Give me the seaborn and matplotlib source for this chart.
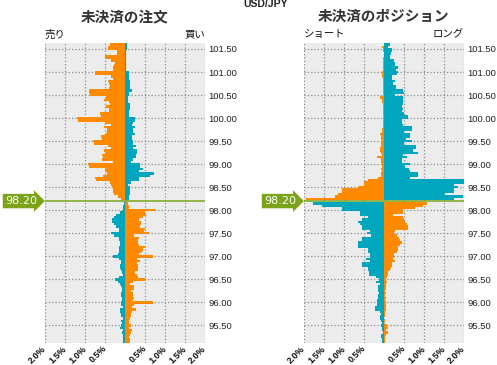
import numpy as np
import pandas as pd
import matplotlib
matplotlib.use("Agg")
import matplotlib.pyplot as plt
import matplotlib.transforms as mtransforms
import seaborn as sns

# ---- data (percent of open orders / positions at each price level) ----
current_price = 98.20
levels_above = np.round(np.arange(101.60, 98.24, -0.05), 2)   # 101.60 .. 98.25
levels_below = np.round(np.arange(98.15, 95.14, -0.05), 2)    # 98.15 .. 95.15

# open orders, above the current price
orders_sell_above = [
    0.37, 0.43, 0.43, 0.21, 0.21, 0.49, 0.49, 0.34, 0.24, 0.28,
    0.29, 0.29, 0.74, 0.74, 0.34, 0.29, 0.42, 0.39, 0.37, 0.39,
    0.89, 0.89, 0.87, 0.47, 0.53, 0.39, 0.37, 0.47, 0.41, 0.40,
    0.62, 0.60, 1.19, 1.17, 0.49, 0.35, 0.53, 0.45, 0.44, 0.47,
    0.59, 0.58, 0.79, 0.78, 0.42, 0.35, 0.52, 0.51, 0.57, 0.56,
    0.57, 0.31, 0.92, 0.91, 0.50, 0.49, 0.45, 0.56, 0.74, 0.73,
    0.37, 0.35, 0.32, 0.31, 0.29, 0.28, 0.18, 0.09]
orders_buy_above = [
    0.05, 0.05, 0.05, 0.03, 0.03, 0.02, 0.02, 0.02, 0.02, 0.02,
    0.03, 0.03, 0.10, 0.10, 0.10, 0.11, 0.12, 0.12, 0.12, 0.12,
    0.17, 0.11, 0.11, 0.07, 0.07, 0.07, 0.12, 0.12, 0.12, 0.11,
    0.11, 0.11, 0.26, 0.26, 0.21, 0.17, 0.26, 0.21, 0.21, 0.26,
    0.17, 0.17, 0.21, 0.21, 0.27, 0.19, 0.30, 0.30, 0.27, 0.27,
    0.21, 0.16, 0.38, 0.38, 0.46, 0.36, 0.72, 0.62, 0.36, 0.36,
    0.15, 0.08, 0.12, 0.12, 0.12, 0.12, 0.11, 0.11]

# open orders, below the current price
orders_buy_below = [
    0.02, 0.04, 0.04, 0.06, 0.12, 0.22, 0.28, 0.33, 0.33, 0.28,
    0.22, 0.16, 0.14, 0.35, 0.27, 0.14, 0.14, 0.12, 0.12, 0.14,
    0.16, 0.14, 0.18, 0.29, 0.14, 0.10, 0.09, 0.12, 0.12, 0.10,
    0.08, 0.06, 0.14, 0.24, 0.18, 0.12, 0.09, 0.08, 0.08, 0.09,
    0.09, 0.08, 0.08, 0.11, 0.09, 0.06, 0.13, 0.12, 0.09, 0.09,
    0.06, 0.09, 0.08, 0.11, 0.12, 0.06, 0.08, 0.06, 0.06, 0.06,
    0.06]
orders_sell_below = [
    0.07, 0.11, 0.11, 0.75, 0.51, 0.53, 0.44, 0.34, 0.40, 0.40,
    0.38, 0.51, 0.48, 0.61, 0.23, 0.36, 0.32, 0.32, 0.36, 0.51,
    0.44, 0.43, 0.36, 0.69, 0.29, 0.38, 0.29, 0.33, 0.33, 0.32,
    0.26, 0.29, 0.33, 0.51, 0.19, 0.13, 0.23, 0.23, 0.15, 0.19,
    0.19, 0.23, 0.19, 0.71, 0.23, 0.18, 0.28, 0.18, 0.15, 0.15,
    0.13, 0.11, 0.11, 0.15, 0.09, 0.18, 0.15, 0.13, 0.11, 0.13,
    0.13]

# open positions, above the current price
pos_short_above = [
    0.00, 0.04, 0.03, 0.02, 0.00, 0.00, 0.02, 0.02, 0.03, 0.03,
    0.02, 0.02, 0.04, 0.04, 0.04, 0.02, 0.02, 0.03, 0.02, 0.02,
    0.02, 0.02, 0.03, 0.09, 0.06, 0.05, 0.03, 0.03, 0.02, 0.02,
    0.02, 0.03, 0.02, 0.02, 0.03, 0.03, 0.03, 0.05, 0.05, 0.09,
    0.08, 0.08, 0.06, 0.08, 0.08, 0.09, 0.09, 0.07, 0.06, 0.17,
    0.08, 0.08, 0.06, 0.04, 0.07, 0.06, 0.08, 0.08, 0.14, 0.39,
    0.49, 0.49, 0.64, 1.06, 1.06, 1.15, 1.22, 1.95]
pos_long_above = [
    0.15, 0.11, 0.19, 0.19, 0.17, 0.15, 0.15, 0.26, 0.28, 0.28,
    0.36, 0.29, 0.34, 0.32, 0.19, 0.19, 0.28, 0.23, 0.29, 0.29,
    0.48, 0.51, 0.28, 0.48, 0.48, 0.48, 0.47, 0.44, 0.48, 0.44,
    0.51, 0.59, 0.59, 0.46, 0.44, 0.48, 0.71, 0.71, 0.51, 0.65,
    0.65, 0.54, 0.71, 0.51, 0.80, 0.80, 0.72, 0.86, 0.48, 0.57,
    0.44, 0.44, 0.65, 0.52, 0.62, 0.65, 0.86, 0.86, 0.65, 2.30,
    2.30, 1.76, 1.84, 1.76, 1.75, 1.52, 1.98, 1.76]

# open positions, below the current price
pos_short_below = [
    1.77, 1.56, 1.06, 1.06, 0.60, 0.60, 0.39, 0.54, 0.64, 0.60,
    0.54, 0.54, 0.35, 0.43, 0.33, 0.54, 0.54, 0.66, 0.66, 0.66,
    0.39, 0.39, 0.35, 0.35, 0.46, 0.35, 0.54, 0.54, 0.39, 0.39,
    0.38, 0.38, 0.21, 0.12, 0.21, 0.10, 0.16, 0.14, 0.16, 0.12,
    0.16, 0.14, 0.18, 0.18, 0.18, 0.22, 0.22, 0.10, 0.08, 0.10,
    0.09, 0.08, 0.05, 0.08, 0.05, 0.04, 0.03, 0.08, 0.08, 0.06,
    0.06]
pos_long_below = [
    1.08, 0.98, 0.78, 0.48, 0.48, 0.23, 0.48, 0.51, 0.53, 0.57,
    0.61, 0.61, 0.28, 0.26, 0.32, 0.38, 0.40, 0.46, 0.40, 0.36,
    0.36, 0.32, 0.26, 0.26, 0.23, 0.28, 0.19, 0.19, 0.18, 0.15,
    0.11, 0.11, 0.07, 0.04, 0.07, 0.04, 0.04, 0.04, 0.03, 0.04,
    0.03, 0.04, 0.03, 0.04, 0.04, 0.05, 0.05, 0.03, 0.02, 0.02,
    0.01, 0.02, 0.00, 0.07, 0.09, 0.04, 0.10, 0.04, 0.03, 0.02,
    0.02]

y_ticks = [95.5, 96.0, 96.5, 97.0, 97.5, 98.0, 98.5, 99.0, 99.5, 100.0, 100.5, 101.0, 101.5]
x_ticks = [-2.0, -1.5, -1.0, -0.5, 0.0, 0.5, 1.0, 1.5, 2.0]
x_ticklabels = ["2.0%", "1.5%", "1.0%", "0.5%", "", "0.5%", "1.0%", "1.5%", "2.0%"]

ORANGE = "#FF8A00"
TEAL = "#00A5BE"
GREEN = "#7BA418"

sns.set_style("darkgrid", {"axes.facecolor": "#ECECEC", "grid.color": "#8C8C8C",
                           "grid.linestyle": ":", "axes.edgecolor": "none"})
plt.rcParams["font.family"] = ["Liberation Sans", "Noto Sans CJK JP", "DejaVu Sans"]

fig = plt.figure(figsize=(4.97, 3.65), dpi=100)
fig.patch.set_facecolor("white")

ax_ord = fig.add_axes([45 / 497, 22 / 365, 160 / 497, 300 / 365])
ax_pos = fig.add_axes([304 / 497, 22 / 365, 160 / 497, 300 / 365])


def side(ax, values, levels, color, sign):
    sns.barplot(x=sign * np.array(values), y=levels, orient="y", native_scale=True,
                width=1.0, color=color, saturation=1, errorbar=None,
                linewidth=0, edgecolor="none", ax=ax)


side(ax_ord, orders_sell_above, levels_above, ORANGE, -1)
side(ax_ord, orders_buy_above, levels_above, TEAL, 1)
side(ax_ord, orders_buy_below, levels_below, TEAL, -1)
side(ax_ord, orders_sell_below, levels_below, ORANGE, 1)

side(ax_pos, pos_short_above, levels_above, ORANGE, -1)
side(ax_pos, pos_long_above, levels_above, TEAL, 1)
side(ax_pos, pos_short_below, levels_below, TEAL, -1)
side(ax_pos, pos_long_below, levels_below, ORANGE, 1)

for ax, title, left_lab, right_lab in [(ax_ord, "未決済の注文", "売り", "買い"),
                                       (ax_pos, "未決済のポジション", "ショート", "ロング")]:
    ax.set_xlim(-2, 2)
    ax.set_ylim(95.12, 101.63)
    ax.set_axisbelow(True)
    ax.grid(True, color="#8C8C8C", linestyle=":", linewidth=0.9)
    ax.set_yticks(y_ticks)
    ax.set_yticklabels([f"{v:.2f}" for v in y_ticks])
    ax.yaxis.tick_right()
    ax.set_xticks(x_ticks)
    ax.set_xticklabels(x_ticklabels, rotation=45, ha="right", va="center",
                       rotation_mode="anchor", fontweight="bold")
    ax.tick_params(axis="y", length=0, pad=2.5, labelsize=6.8, labelcolor="#222222")
    ax.tick_params(axis="x", length=0, pad=3, labelsize=6.5, labelcolor="#111111")
    ax.set_xlabel("")
    ax.set_ylabel("")
    for s in ax.spines.values():
        s.set_visible(False)

    ax.axhline(current_price, color=GREEN, linewidth=1.1, zorder=5)
    trans = mtransforms.blended_transform_factory(ax.transAxes, ax.transData)
    ax.text(-0.05, current_price, f"{current_price:.2f}", transform=trans,
            ha="right", va="center", color="white", fontsize=8, family="DejaVu Sans",
            zorder=6, clip_on=False,
            bbox=dict(boxstyle="rarrow,pad=0.2", fc=GREEN, ec="none"))

    ax.text(0, 1.012, left_lab, transform=ax.transAxes, ha="left", va="bottom",
            fontsize=7.5, color="#111111")
    ax.text(1, 1.012, right_lab, transform=ax.transAxes, ha="right", va="bottom",
            fontsize=7.5, color="#111111")
    bb = ax.get_position()
    fig.text((bb.x0 + bb.x1) / 2, 1 - 17 / 365, title, ha="center", va="center",
             fontsize=10.5, fontweight="bold", color="#333333")

fig.text(266 / 497, 1 - 4 / 365, "USD/JPY", ha="center", va="center",
         fontsize=7.5, fontweight="bold", color="#222222")

fig.savefig("out.png", dpi=100)
